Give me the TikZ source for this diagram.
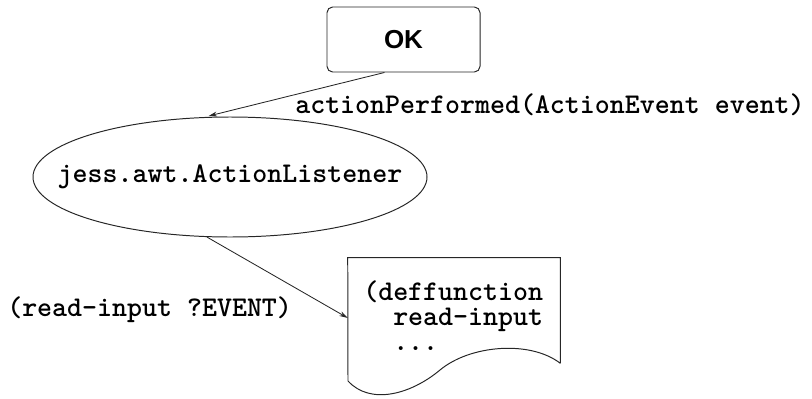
\documentclass[tikz,border=0pt]{standalone}
\usepackage{fontspec}
\setsansfont{Liberation Sans}
\usepackage{tikz}
\usetikzlibrary{positioning,shapes.geometric,arrows.meta}
\newcommand{\codesize}{\ttfamily\bfseries\fontsize{20.3}{18}\selectfont}
\tikzset{buttonnode/.style={rectangle, rounded corners=4pt, draw=black!85, line width=0.7pt, minimum width=3.825cm, minimum height=1.625cm, font=\sffamily\bfseries\fontsize{18.5}{22}\selectfont},
listenernode/.style={ellipse, draw=black!85, line width=0.7pt, minimum width=9.85cm, minimum height=3cm, inner sep=0pt},
codenode/.style={inner sep=0pt, font=\codesize},
docnode/.style={rectangle, minimum width=5.3cm, minimum height=2.625cm, inner sep=0pt},}

\begin{document}
\begin{tikzpicture}[>={Stealth[length=6pt,width=3.5pt]}]
\useasboundingbox (0,0) rectangle (20.3,9.95);
\node [buttonnode] (ok) at (10.0875,8.9625) {OK};
\node [listenernode] (lis) at (5.75,5.525) {};
\node [codenode] (lisname) at (lis.center) {jess.awt.ActionListener};
\node [codenode, anchor=west] (perf) at (7.375,7.325) {actionPerformed(ActionEvent event)};
\node [docnode] (doc) at (11.35,2.1875) {};
\node [codenode, anchor=north west, align=left] (body) at (9.075,2.95) {(deffunction\\\ \ read-input\\\ \ ...};
\node [codenode, anchor=west] (call) at (0.175,2.2) {(read-input ?EVENT)};
% page with a wavy lower edge
\draw[line width=0.7pt, black!85] (doc.south east) -- (doc.north east) -- (doc.north west) -- (8.7,0.425)
  .. controls (9.25,-0.175) and (10.25,0.075) .. (11.0,0.7)
  .. controls (11.75,1.325) and (13.25,1.45) .. (doc.south east);
\draw[line width=0.6pt, black!85, ->, shorten >=3pt] (ok.240) -- (lis.113.6);
\draw[line width=0.6pt, black!85, ->] (lis.249) -- (doc.184);
\end{tikzpicture}
\end{document}
